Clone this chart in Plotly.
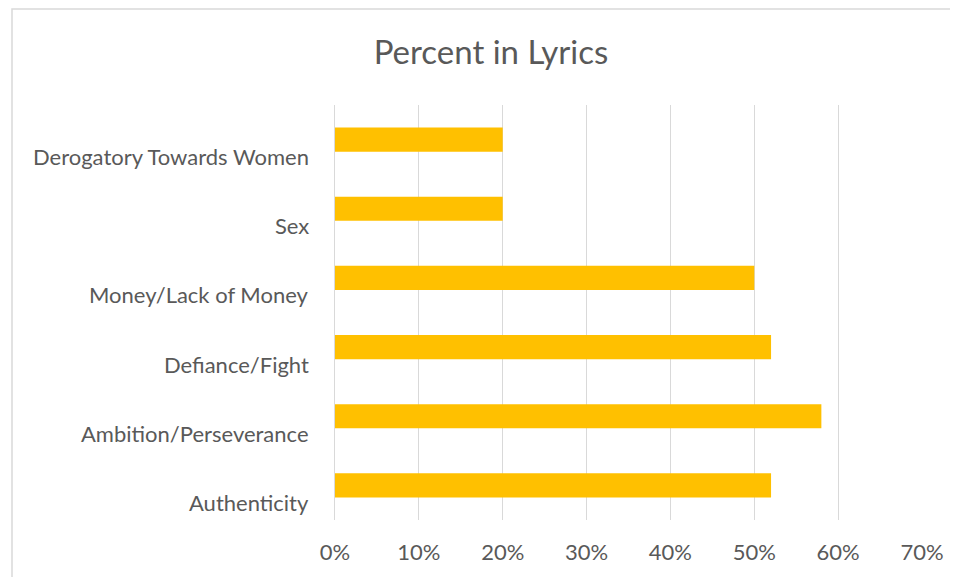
import plotly.graph_objects as go

categories = ["Authenticity", "Ambition/Perseverance", "Defiance/Fight",
              "Money/Lack of Money", "Sex", "Derogatory Towards Women"]
values = [0.52, 0.58, 0.52, 0.50, 0.20, 0.20]
tick_vals = [0, 0.1, 0.2, 0.3, 0.4, 0.5, 0.6, 0.7]
tick_text = ["0%", "10%", "20%", "30%", "40%", "50%", "60%", "70%"]

W, H = 950, 569
L, R, T, B = 327, 36, 97, 57
pw, ph = W - L - R, H - T - B

font_family = "Lato, Carlito, Calibri, sans-serif"
grey = "#595959"

fig = go.Figure(go.Bar(
    x=values, y=categories, orientation="h",
    marker=dict(color="#FFC000", line=dict(width=0)),
    width=0.35,
))

annotations = [
    dict(text=c, x=0, y=c, xref="paper", yref="y", xanchor="right", yanchor="middle",
         xshift=-24, yshift=-17, showarrow=False,
         font=dict(family=font_family, size=22, color=grey))
    for c in categories
]

fig.update_layout(
    width=W, height=H,
    margin=dict(l=L, r=R, t=T, b=B),
    paper_bgcolor="white", plot_bgcolor="white",
    showlegend=False,
    title=dict(text="Percent in Lyrics", x=(491 - 8) / W, xref="container", xanchor="center",
               y=1 - 44 / H, yref="container", yanchor="middle",
               font=dict(family=font_family, size=33, color=grey)),
    xaxis=dict(range=[0, 0.7], tickvals=tick_vals, ticktext=tick_text,
               showgrid=True, gridcolor="#D9D9D9", gridwidth=1,
               zeroline=False, showline=False, ticks="",
               ticklabelstandoff=17,
               tickfont=dict(family=font_family, size=22, color=grey),
               fixedrange=True),
    yaxis=dict(categoryorder="array", categoryarray=categories,
               range=[-0.5, len(categories) - 0.5],
               showticklabels=False, showgrid=False, zeroline=False,
               showline=True, linecolor="#D9D9D9", linewidth=1, ticks=""),
    annotations=annotations,
    shapes=[dict(type="rect", xref="paper", yref="paper",
                 x0=(4 - L) / pw, x1=(W + 40 - L) / pw,
                 y0=-(B + 40) / ph, y1=1 + (T - 1) / ph,
                 line=dict(color="#D9D9D9", width=1.5), fillcolor="rgba(0,0,0,0)",
                 layer="below")],
)

fig.write_html("out.html")
